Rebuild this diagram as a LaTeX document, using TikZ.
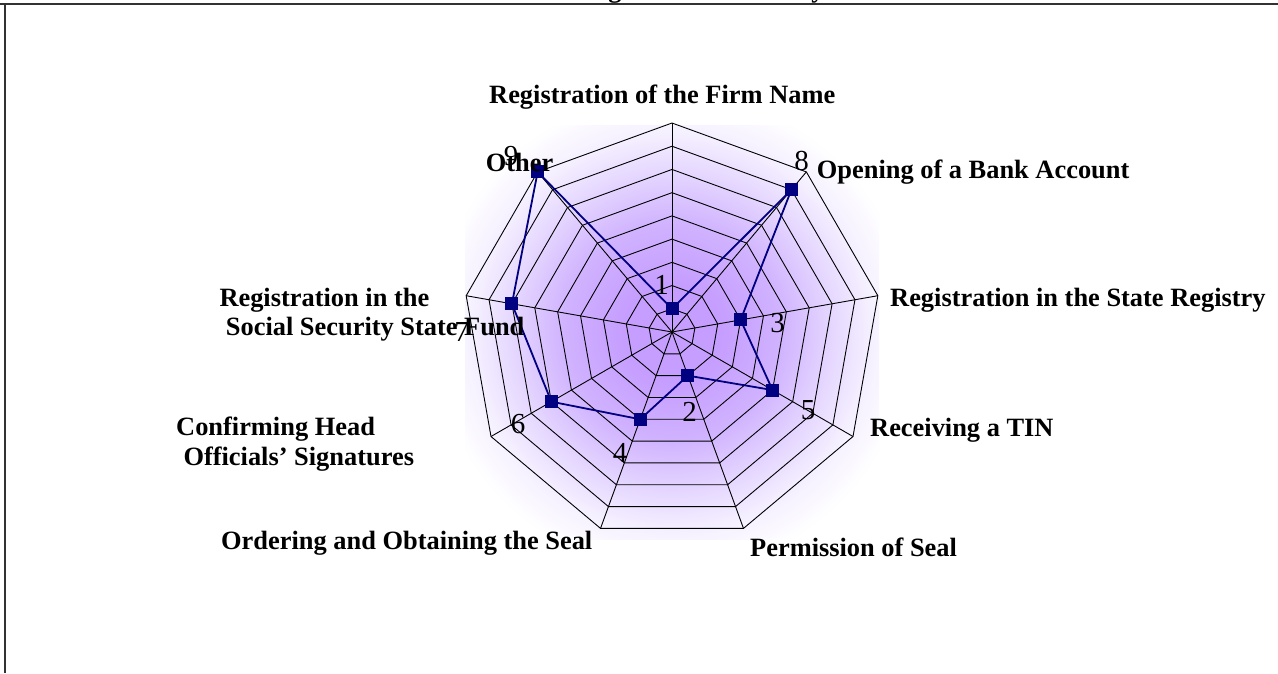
\documentclass[tikz,border=0pt]{standalone}
\usepackage{fontspec}
\setmainfont{Liberation Serif}
\usetikzlibrary{calc}

\definecolor{series}{RGB}{0,0,128}
\definecolor{frameline}{RGB}{50,50,50}
\definecolor{glowA}{RGB}{198,158,255}
\definecolor{glowB}{RGB}{208,178,255}
\definecolor{glowC}{RGB}{228,213,255}
\definecolor{glowD}{RGB}{245,240,255}

% soft purple glow behind the radar grid (path edge sits at 25bp)
\pgfdeclareradialshading{plotglow}{\pgfpoint{0bp}{0bp}}{%
  color(0bp)=(glowA); color(6bp)=(glowA); color(13bp)=(glowB);
  color(19bp)=(glowC); color(24bp)=(glowD); color(29bp)=(white);
  color(50bp)=(white)}

\begin{document}
\begin{tikzpicture}[x=1pt,y=-1pt,
  catlabel/.style={font=\fontsize{26.4}{29.5}\selectfont\bfseries, inner sep=0pt, anchor=base west},
  vallabel/.style={font=\fontsize{29}{29}\selectfont, inner sep=0pt},
  gridline/.style={line width=0.9pt, black},
  seriesline/.style={line width=1.8pt, series, line join=round},
  marker/.style={rectangle, fill=series, minimum size=13pt, inner sep=0pt}]

\useasboundingbox (0,0) rectangle (1278,673);
\fill[white] (0,0) rectangle (1278,673);

% clipped descenders of the heading above the frame
\begin{scope}
  \clip (0,0) rectangle (1278,673);
  \node[catlabel, anchor=base] (hg) at (615,-2.5) {g};
  \node[catlabel, anchor=base] (hy) at (818,-2.5) {y};
\end{scope}

% frame
\draw[line width=1.8pt, frameline] (0,4) -- (1278,4);
\draw[line width=2pt, frameline] (5,4) -- (5,673);

\coordinate (C) at (672,332);
\shade[shading=plotglow] (465,125) rectangle (879,539);

% outer vertices of the nine axes
\foreach \i in {0,...,8}
  \coordinate (v\i) at ($(C)+(-90+40*\i:209)$);

% rings
\foreach \k in {1,...,9}
  \draw[gridline] ($(C)+(-90:\k*23.222)$)
    \foreach \i in {1,...,8}{ -- ($(C)+(-90+40*\i:\k*23.222)$) } -- cycle;

% spokes
\foreach \i in {0,...,8}
  \draw[gridline] (C) -- (v\i);

% data points
\foreach \i/\v in {0/1,1/8,2/3,3/5,4/2,5/4,6/6,7/7,8/9}
  \coordinate (p\i) at ($(C)+(-90+40*\i:\v*23.222)$);

\draw[seriesline] (p0) -- (p1) -- (p2) -- (p3) -- (p4) -- (p5) -- (p6) -- (p7) -- (p8) -- cycle;

\foreach \i in {0,...,8}
  \node[marker] (m\i) at (p\i) {};

% value labels
\node[vallabel] (d1) at (661.7,284.5) {1};
\node[vallabel] (d8) at (801.5,161) {8};
\node[vallabel] (d3) at (777.5,323) {3};
\node[vallabel] (d5) at (808,410) {5};
\node[vallabel] (d2) at (689.7,411.7) {2};
\node[vallabel] (d4) at (620,453) {4};
\node[vallabel] (d6) at (518,424) {6};
\node[vallabel] (d7) at (461.5,331.7) {7};
\node[vallabel] (d9) at (511,156) {9};

% category labels
\node[catlabel] (c0) at (489,103) {Registration of the Firm Name};
\node[catlabel] (c1) at (816.7,178.3) {Opening of a Bank Account};
\node[catlabel] (c2) at (890,306) {Registration in the State Registry};
\node[catlabel] (c3) at (870,436.7) {Receiving a TIN};
\node[catlabel] (c4) at (750,556.7) {Permission of Seal};
\node[catlabel] (c5) at (221,549.3) {Ordering and Obtaining the Seal};
\node[catlabel] (c6a) at (176,435.7) {Confirming Head};
\node[catlabel] (c6b) at (183.3,465) {Officials’ Signatures};
\node[catlabel] (c7a) at (219.3,306) {Registration in the};
\node[catlabel] (c7b) at (225.7,335) {Social Security State Fund};
\node[catlabel] (c8) at (485.7,171.7) {Other};

\end{tikzpicture}
\end{document}
